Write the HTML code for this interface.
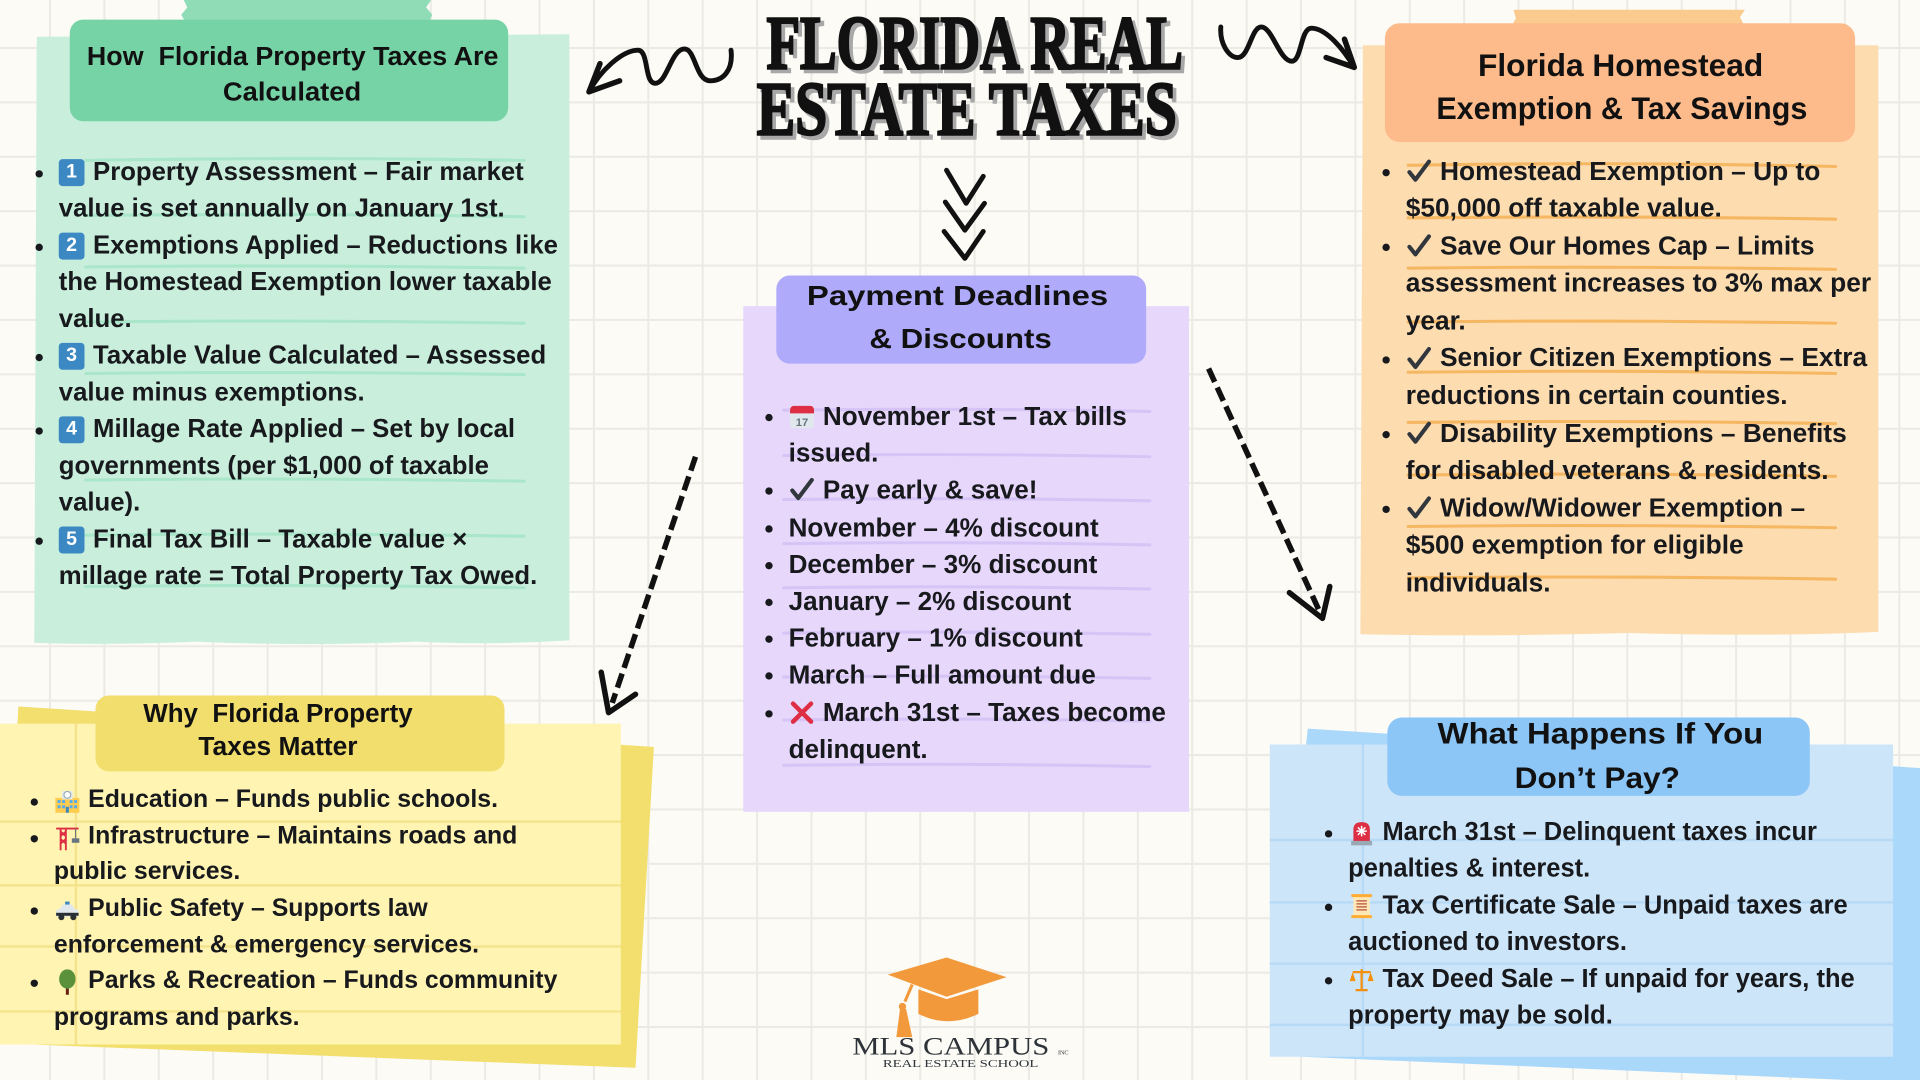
<!DOCTYPE html>
<html>
<head>
<meta charset="utf-8">
<style>
  html,body{margin:0;padding:0;}
  body{
    width:1920px;height:1080px;overflow:hidden;position:relative;
    background-color:#fcfbf6;
    background-image:
      linear-gradient(to right,#ebeae4 2px,transparent 2px),
      linear-gradient(to bottom,#ebeae4 2px,transparent 2px);
    background-size:54.4px 54.4px;
    background-position:49px 47px;
  }
  #s{position:absolute;left:0;top:0;width:1568px;height:882px;transform:scale(1.22449);transform-origin:0 0;}
  .tx{position:absolute;white-space:nowrap;font-family:"Liberation Sans",sans-serif;font-weight:bold;color:#17191c;}
  .tx>div{position:relative;height:var(--lh);line-height:var(--lh);}
  .b::before{content:"";position:absolute;left:-19px;top:50%;width:6px;height:6px;margin-top:-2px;border-radius:50%;background:#17191c;}
  .ic{display:inline-block;width:22px;height:22px;vertical-align:top;position:relative;top:calc((var(--lh) - 22px) / 2);margin-right:6px;}
  .kc{display:inline-block;width:21px;height:22px;background:#3b88c3;border-radius:3px;color:#fff;font-size:16px;line-height:22px;text-align:center;vertical-align:top;position:relative;top:4px;margin-right:7px;font-weight:bold;}
</style>
</head>
<body>
<div id="s">
<svg width="1568" height="882" style="position:absolute;left:0;top:0;overflow:visible">
  <!-- GREEN PANEL -->
  <path d="M150,0 H352 L348,6 L353,12 L350,19 H152 L148,12 L153,6Z" fill="#90dcb6"/>
  <path d="M30,30 L465,28 L465,523 Q400,527 340,524 Q250,528 160,524 Q90,527 28,525 Z" fill="#c9efdc"/>
  <g stroke="#aae6c9" stroke-width="2.5" fill="none" stroke-linecap="round">
    <path d="M70,131 Q250,128 428,131"/>
    <path d="M70,176 Q250,174 428,177"/>
    <path d="M70,218 Q250,216 428,219"/>
    <path d="M70,263 Q250,261 428,264"/>
    <path d="M70,305 Q250,303 428,306"/>
    <path d="M70,392 Q250,390 428,393"/>
    <path d="M70,437 Q250,435 428,438"/>
    <path d="M70,479 Q250,477 428,480"/>
  </g>
  <rect x="57" y="16" width="358" height="83" rx="11" fill="#76d3a6"/>

  <!-- PURPLE PANEL -->
  <rect x="607" y="250" width="364" height="413" fill="#e6d7fb"/>
  <g stroke="#d7c4f6" stroke-width="2.5" fill="none" stroke-linecap="round">
    <path d="M640,335 Q790,333 939,336"/>
    <path d="M640,372 Q790,370 939,373"/>
    <path d="M640,408 Q790,406 939,409"/>
    <path d="M640,444 Q790,442 939,445"/>
    <path d="M640,480 Q790,478 939,481"/>
    <path d="M640,517 Q790,515 939,518"/>
    <path d="M640,553 Q790,551 939,554"/>
    <path d="M640,588 Q790,586 939,589"/>
    <path d="M640,625 Q790,623 939,626"/>
  </g>
  <rect x="634" y="225" width="302" height="72" rx="11" fill="#b0aafb"/>

  <!-- ORANGE PANEL -->
  <path d="M1236,8 H1425 L1421,14 L1425,22 H1234 L1238,15 Z" fill="#fbca8e"/>
  <path d="M1113,37 L1534,37 L1534,516 Q1450,520 1330,517 Q1220,520 1111,518 Z" fill="#fddcb0"/>
  <g stroke="#f6b45a" stroke-width="2.5" fill="none" stroke-linecap="round" opacity="0.9">
    <path d="M1150,135 Q1320,132 1499,136"/>
    <path d="M1150,178 Q1320,176 1499,179"/>
    <path d="M1150,219 Q1320,217 1499,220"/>
    <path d="M1150,263 Q1320,261 1499,264"/>
    <path d="M1150,304 Q1320,302 1499,305"/>
    <path d="M1150,345 Q1320,343 1499,346"/>
    <path d="M1150,388 Q1320,386 1499,389"/>
    <path d="M1150,430 Q1320,428 1499,431"/>
    <path d="M1150,472 Q1320,470 1499,473"/>
  </g>
  <rect x="1131" y="19" width="384" height="97" rx="12" fill="#fdbb8b"/>

  <!-- YELLOW PANEL -->
  <polygon points="15,577 534,610 519,872 0,852" fill="#f2df6d"/>
  <rect x="0" y="591" width="507" height="262" fill="#fff4b2"/>
  <g stroke="#f4e38c" stroke-width="2" fill="none">
    <path d="M0,671 H507 M0,723 H507 M0,773 H507 M0,826 H507"/>
    <path d="M62,591 V853"/>
  </g>
  <rect x="78" y="568" width="334" height="62" rx="11" fill="#f1de6d"/>

  <!-- BLUE PANEL -->
  <polygon points="1068,595 1580,628 1580,885 1040,862" fill="#a9d8fb"/>
  <rect x="1037" y="608" width="509" height="255" fill="#cde5f9"/>
  <g stroke="#b7d9f6" stroke-width="2" fill="none">
    <path d="M1037,686 H1546 M1037,737 H1546 M1037,787 H1546 M1037,837 H1546"/>
    <path d="M1113,608 V863"/>
  </g>
  <rect x="1133" y="586" width="345" height="64" rx="12" fill="#8cc6f6"/>

  <!-- HEADER TEXTS -->
  <g font-family="Liberation Sans, sans-serif" font-weight="bold" fill="#111">
    <text x="71" y="53" font-size="21" textLength="336" lengthAdjust="spacingAndGlyphs" xml:space="preserve">How  Florida Property Taxes Are</text>
    <text x="182" y="82" font-size="21" textLength="113" lengthAdjust="spacingAndGlyphs">Calculated</text>
    <text x="659" y="249" font-size="23" textLength="246" lengthAdjust="spacingAndGlyphs">Payment Deadlines</text>
    <text x="710" y="284" font-size="23" textLength="149" lengthAdjust="spacingAndGlyphs">&amp; Discounts</text>
    <text x="1207" y="62" font-size="25.8" textLength="233" lengthAdjust="spacingAndGlyphs">Florida Homestead</text>
    <text x="1173" y="97" font-size="25.8" textLength="303" lengthAdjust="spacingAndGlyphs">Exemption &amp; Tax Savings</text>
    <text x="117" y="589.5" font-size="21.5" textLength="220" lengthAdjust="spacingAndGlyphs" xml:space="preserve">Why  Florida Property</text>
    <text x="162" y="616.5" font-size="21.5" textLength="130" lengthAdjust="spacingAndGlyphs">Taxes Matter</text>
    <text x="1174" y="607" font-size="24.3" textLength="266" lengthAdjust="spacingAndGlyphs">What Happens If You</text>
    <text x="1237" y="643.5" font-size="24.3" textLength="135" lengthAdjust="spacingAndGlyphs">Don’t Pay?</text>
  </g>

  <!-- TITLE -->
  <g font-family="Liberation Serif, serif" font-weight="bold" font-size="62">
    <text x="629" y="59" textLength="340" lengthAdjust="spacingAndGlyphs" fill="#a8a8a8" stroke="#a8a8a8" stroke-width="2">FLORIDA REAL</text>
    <text x="626" y="56" textLength="340" lengthAdjust="spacingAndGlyphs" fill="#111" stroke="#111" stroke-width="2">FLORIDA REAL</text>
    <text x="621" y="113" textLength="343" lengthAdjust="spacingAndGlyphs" fill="#a8a8a8" stroke="#a8a8a8" stroke-width="2">ESTATE TAXES</text>
    <text x="618" y="110" textLength="343" lengthAdjust="spacingAndGlyphs" fill="#111" stroke="#111" stroke-width="2">ESTATE TAXES</text>
  </g>

  <!-- SQUIGGLES -->
  <g stroke="#111" stroke-width="4" fill="none" stroke-linecap="round" stroke-linejoin="round">
    <path d="M597,41 C599,58 590,66 580,66 C568,66 568,40 559,40 C548,40 545,68 535,68 C526,68 530,41 521,41 C508,41 490,58 481,75"/>
    <path d="M490,52 L481,75 L506,66" stroke-width="4.5"/>
    <path d="M997,22 C996,35 1003,47 1011,47 C1020,47 1022,22 1030,22 C1039,22 1045,50 1055,50 C1063,50 1062,23 1071,23 C1083,23 1097,40 1106,55"/>
    <path d="M1098,32 L1106,55 L1083,47" stroke-width="4.5"/>
    <!-- chevrons -->
    <path d="M773,139 L789,166 L803,144"/>
    <path d="M772,165 L788,188 L804,166"/>
    <path d="M771,189 L788,211 L803,189"/>
  </g>

  <!-- DASHED ARROWS -->
  <g stroke="#111" stroke-width="4.5" fill="none" stroke-linecap="butt" stroke-linejoin="round">
    <path d="M568,373 L500,574" stroke-dasharray="12 5"/>
    <path d="M491,549 L497,582 L519,567" stroke-linecap="round"/>
    <path d="M987,301 L1077,498" stroke-dasharray="12 5"/>
    <path d="M1053,484 L1080,505 L1086,479" stroke-linecap="round"/>
  </g>

  <!-- LOGO -->
  <g>
    <polygon points="725,796 773,782 822,798 773,814" fill="#f29a3b"/>
    <path d="M750,808 L773,816 L799,808 L799,828 Q774,840 750,828 Z" fill="#f29a3b"/>
    <path d="M745,804 L739,818" stroke="#f29a3b" stroke-width="2.5" fill="none"/>
    <circle cx="737" cy="822" r="3" fill="#f29a3b"/>
    <path d="M735,824 L740,824 L745,847 L732,847 Z" fill="#f29a3b"/>
    <text x="696" y="861" font-family="Liberation Serif, serif" font-size="21" textLength="161" lengthAdjust="spacingAndGlyphs" fill="#2d3338">MLS CAMPUS</text>
    <text x="864" y="861" font-family="Liberation Serif, serif" font-size="5" fill="#2d3338">INC</text>
    <text x="721" y="871.5" font-family="Liberation Serif, serif" font-size="8.6" textLength="127" lengthAdjust="spacingAndGlyphs" fill="#2d3338">REAL ESTATE SCHOOL</text>
  </g>
</svg>

<!-- GREEN TEXT -->
<div class="tx" style="left:48px;top:126px;font-size:21px;--lh:30px;">
  <div class="b"><span class="kc">1</span>Property Assessment – Fair market</div>
  <div>value is set annually on January 1st.</div>
  <div class="b"><span class="kc">2</span>Exemptions Applied – Reductions like</div>
  <div>the Homestead Exemption lower taxable</div>
  <div>value.</div>
  <div class="b"><span class="kc">3</span>Taxable Value Calculated – Assessed</div>
  <div>value minus exemptions.</div>
  <div class="b"><span class="kc">4</span>Millage Rate Applied – Set by local</div>
  <div>governments (per $1,000 of taxable</div>
  <div>value).</div>
  <div class="b"><span class="kc">5</span>Final Tax Bill – Taxable value ×</div>
  <div>millage rate = Total Property Tax Owed.</div>
</div>

<!-- PURPLE TEXT -->
<div class="tx" style="left:644px;top:325px;font-size:21.3px;--lh:30.2px;">
  <div class="b"><svg class="ic" viewBox="0 0 36 36"><rect x="2" y="4" width="32" height="30" rx="4" fill="#e1e8ed"/><path d="M2 9a5 5 0 0 1 5-5h22a5 5 0 0 1 5 5v5H2z" fill="#dd2e44"/><text x="18" y="31" font-size="15" text-anchor="middle" fill="#66757f" font-family="Liberation Sans, sans-serif">17</text></svg>November 1st – Tax bills</div>
  <div>issued.</div>
  <div class="b"><svg class="ic" viewBox="0 0 36 36"><path d="M5 19 L13 29 L31 5" stroke="#31373d" stroke-width="5.5" fill="none" stroke-linecap="round" stroke-linejoin="round"/></svg>Pay early &amp; save!</div>
  <div class="b">November – 4% discount</div>
  <div class="b">December – 3% discount</div>
  <div class="b">January – 2% discount</div>
  <div class="b">February – 1% discount</div>
  <div class="b">March – Full amount due</div>
  <div class="b"><svg class="ic" viewBox="0 0 36 36"><path d="M6 6 L30 30 M30 6 L6 30" stroke="#dd2e44" stroke-width="6" stroke-linecap="round"/></svg>March 31st – Taxes become</div>
  <div>delinquent.</div>
</div>

<!-- ORANGE TEXT -->
<div class="tx" style="left:1148px;top:124.7px;font-size:21.5px;--lh:30.55px;">
  <div class="b"><svg class="ic" viewBox="0 0 36 36"><path d="M5 19 L13 29 L31 5" stroke="#31373d" stroke-width="5.5" fill="none" stroke-linecap="round" stroke-linejoin="round"/></svg>Homestead Exemption – Up to</div>
  <div>$50,000 off taxable value.</div>
  <div class="b"><svg class="ic" viewBox="0 0 36 36"><path d="M5 19 L13 29 L31 5" stroke="#31373d" stroke-width="5.5" fill="none" stroke-linecap="round" stroke-linejoin="round"/></svg>Save Our Homes Cap – Limits</div>
  <div>assessment increases to 3% max per</div>
  <div>year.</div>
  <div class="b"><svg class="ic" viewBox="0 0 36 36"><path d="M5 19 L13 29 L31 5" stroke="#31373d" stroke-width="5.5" fill="none" stroke-linecap="round" stroke-linejoin="round"/></svg>Senior Citizen Exemptions – Extra</div>
  <div>reductions in certain counties.</div>
  <div class="b"><svg class="ic" viewBox="0 0 36 36"><path d="M5 19 L13 29 L31 5" stroke="#31373d" stroke-width="5.5" fill="none" stroke-linecap="round" stroke-linejoin="round"/></svg>Disability Exemptions – Benefits</div>
  <div>for disabled veterans &amp; residents.</div>
  <div class="b"><svg class="ic" viewBox="0 0 36 36"><path d="M5 19 L13 29 L31 5" stroke="#31373d" stroke-width="5.5" fill="none" stroke-linecap="round" stroke-linejoin="round"/></svg>Widow/Widower Exemption –</div>
  <div>$500 exemption for eligible</div>
  <div>individuals.</div>
</div>

<!-- YELLOW TEXT -->
<div class="tx" style="left:44px;top:639px;font-size:20.3px;--lh:29.7px;">
  <div class="b"><svg class="ic" viewBox="0 0 36 36"><rect x="2" y="14" width="32" height="20" fill="#ffcc4d"/><rect x="11" y="5" width="14" height="11" fill="#e1e8ed"/><circle cx="18" cy="10" r="4.5" fill="#fff" stroke="#99aab5" stroke-width="1.5"/><g fill="#55acee"><rect x="5" y="17" width="4" height="4"/><rect x="11" y="17" width="4" height="4"/><rect x="21" y="17" width="4" height="4"/><rect x="27" y="17" width="4" height="4"/><rect x="5" y="24" width="4" height="4"/><rect x="11" y="24" width="4" height="4"/><rect x="21" y="24" width="4" height="4"/><rect x="27" y="24" width="4" height="4"/></g><rect x="16" y="26" width="4" height="8" fill="#3b88c3"/></svg>Education – Funds public schools.</div>
  <div class="b"><svg class="ic" viewBox="0 0 36 36"><path d="M9 35V6 M16 35V6 M9 10L16 16 M16 10 L9 16 M9 20 L16 26 M16 20 L9 26 M3 6 H33" stroke="#dd2e44" stroke-width="2.5" fill="none"/><path d="M29 6 V19" stroke="#66757f" stroke-width="1.5"/><rect x="24" y="19" width="10" height="6" fill="#66757f"/></svg>Infrastructure – Maintains roads and</div>
  <div>public services.</div>
  <div class="b"><svg class="ic" viewBox="0 0 36 36"><path d="M3 27 V20 Q4 17 8 17 L12 11 H24 L28 17 Q33 17 33 20 V27Z" fill="#e1e8ed"/><rect x="3" y="22" width="30" height="4" fill="#292f33"/><rect x="15" y="7" width="6" height="4" fill="#3b88c3"/><circle cx="10" cy="28" r="4" fill="#292f33"/><circle cx="26" cy="28" r="4" fill="#292f33"/></svg>Public Safety – Supports law</div>
  <div>enforcement &amp; emergency services.</div>
  <div class="b"><svg class="ic" viewBox="0 0 36 36"><rect x="16" y="24" width="4" height="11" fill="#662113"/><ellipse cx="18" cy="14" rx="11" ry="13" fill="#5c913b"/></svg>Parks &amp; Recreation – Funds community</div>
  <div>programs and parks.</div>
</div>

<!-- BLUE TEXT -->
<div class="tx" style="left:1101px;top:665px;font-size:20.8px;--lh:30px;">
  <div class="b"><svg class="ic" viewBox="0 0 36 36"><path d="M7 30 V14 Q7 4 18 4 Q29 4 29 14 V30Z" fill="#dd2e44"/><rect x="4" y="29" width="28" height="6" fill="#99aab5"/><path d="M18 9 V23 M11 16 H25 M13 11 L23 21 M23 11 L13 21" stroke="#fff" stroke-width="2"/></svg>March 31st – Delinquent taxes incur</div>
  <div>penalties &amp; interest.</div>
  <div class="b"><svg class="ic" viewBox="0 0 36 36"><rect x="7" y="3" width="22" height="30" rx="3" fill="#ffe8b6"/><rect x="4" y="2" width="28" height="4" rx="2" fill="#ffac33"/><rect x="4" y="30" width="28" height="4" rx="2" fill="#ffac33"/><path d="M11 11H25M11 15H25M11 19H25M11 23H25" stroke="#c1694f" stroke-width="2"/></svg>Tax Certificate Sale – Unpaid taxes are</div>
  <div>auctioned to investors.</div>
  <div class="b"><svg class="ic" viewBox="0 0 36 36"><path d="M18 4V32 M6 8H30 M10 32H26" stroke="#f4900c" stroke-width="3"/><path d="M6 8 L2 20 H10Z M30 8 L26 20 H34Z" fill="#f4900c"/></svg>Tax Deed Sale – If unpaid for years, the</div>
  <div>property may be sold.</div>
</div>
</div>
</body>
</html>
